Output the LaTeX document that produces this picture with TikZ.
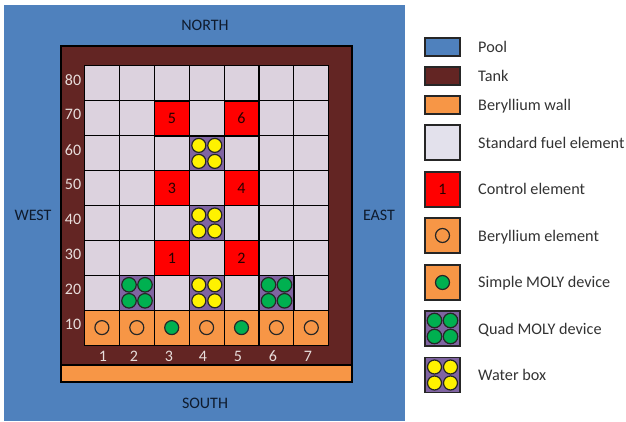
\documentclass[tikz,border=0pt]{standalone}
\usepackage{fontspec}
\setmainfont{Carlito}
\definecolor{poolc}{HTML}{4F81BD}
\definecolor{tankc}{HTML}{632523}
\definecolor{berc}{HTML}{F79646}
\definecolor{fuelc}{HTML}{DCD2DE}
\definecolor{fuellc}{HTML}{E3E1EC}
\definecolor{purc}{HTML}{8064A2}
\definecolor{grnc}{HTML}{00B050}
\definecolor{inkc}{HTML}{0F1B2D}
\definecolor{lblc}{HTML}{E8DEDC}
\definecolor{legc}{HTML}{333333}
\tikzset{
  x=1pt,y=-1pt,
  cellbox/.style={draw=black,line width=1.1pt,minimum width=34.9pt,minimum height=34.9pt,inner sep=0pt,outer sep=0pt,anchor=center,font=\fontsize{16}{16}\selectfont,text=black!85!red},
  fuel/.style={cellbox,fill=fuelc},
  ctrl/.style={cellbox,fill=red},
  ber/.style={cellbox,fill=berc},
  pur/.style={cellbox,fill=purc},
  ring/.style={circle,draw=black!85,line width=1.2pt,minimum size=14pt,inner sep=0pt,outer sep=0pt},
  greenring/.style={ring,fill=grnc},
  qgreen/.style={circle,draw=black!85,line width=1.2pt,minimum size=14.5pt,inner sep=0pt,fill=grnc},
  qyellow/.style={circle,draw=black!85,line width=1.2pt,minimum size=14pt,inner sep=0pt,fill=yellow},
  wallbox/.style={draw=black,line width=1.4pt,inner sep=0pt,outer sep=0pt},
  swatch/.style={draw=black!85,line width=1.2pt,minimum width=35pt,inner sep=0pt,outer sep=0pt,anchor=center},
  axis/.style={text=lblc,font=\fontsize{16}{16}\selectfont,inner sep=0pt},
  compass/.style={text=inkc,font=\fontsize{16}{16}\selectfont,inner sep=0pt},
  legtext/.style={text=legc,font=\fontsize{16.2}{16}\selectfont,inner sep=0pt,anchor=base west},
}
\newcommand{\quadset}[3]{% centre x, y, style
  \node[#3] at (#1-8,#2-8) {};
  \node[#3] at (#1+8,#2-8) {};
  \node[#3] at (#1-8,#2+8) {};
  \node[#3] at (#1+8,#2+8) {};
}
\begin{document}
\begin{tikzpicture}
\useasboundingbox (0,0) rectangle (626,421);
\fill[white] (0,0) rectangle (626,421);
\fill[poolc] (4,5) rectangle (405,421);
\node[wallbox,fill=tankc,minimum width=291pt,minimum height=319pt] (tank) at (206.5,205.5) {};
\node[wallbox,fill=berc,minimum width=291pt,minimum height=17pt] (wall) at (206.5,373.5) {};
% grid of fuel elements
\foreach \c in {1,...,7}{
  \foreach \r in {2,...,8}{
    \node[fuel] (c\c r\r) at ({67+34.9*\c},{362.5-34.9*\r}) {};
  }
}
% control elements
\node[ctrl] (ctrlone) at (172,258) {1};
\node[ctrl] (ctrltwo) at (241.5,258) {2};
\node[ctrl] (ctrlthree) at (172,188.3) {3};
\node[ctrl] (ctrlfour) at (241.5,188.3) {4};
\node[ctrl] (ctrlfive) at (172,118.5) {5};
\node[ctrl] (ctrlsix) at (241.5,118.5) {6};
% purple boxes
\node[pur] (qa) at (137,292.8) {};
\node[pur] (qb) at (276.5,292.8) {};
\quadset{137}{292.8}{qgreen}
\quadset{276.5}{292.8}{qgreen}
\node[pur] (wa) at (206.8,292.8) {};
\node[pur] (wb) at (206.8,223) {};
\node[pur] (wc) at (206.8,153.4) {};
\quadset{206.8}{292.8}{qyellow}
\quadset{206.8}{223}{qyellow}
\quadset{206.8}{153.4}{qyellow}
% row of beryllium
\foreach \c/\s in {1/ring,2/ring,3/greenring,4/ring,5/greenring,6/ring,7/ring}{
  \node[ber] (b\c) at ({67+34.9*\c},327.6) {};
  \node[\s] (br\c) at ({67+34.9*\c},327.6) {};
}
% axis labels
\foreach \t/\y in {80/80,70/114,60/150,50/184,40/219,30/254,20/289,10/324}{
  \node[axis] (y\t) at (73,\y) {\t};
}
\foreach \t/\x in {1/103,2/134,3/169,4/203,5/238,6/273,7/308}{
  \node[axis] (x\t) at (\x,356) {\t};
}
\node[compass] (north) at (205,25) {NORTH};
\node[compass] (south) at (205,403) {SOUTH};
\node[compass] (west) at (33,215) {WEST};
\node[compass] (east) at (379,215) {EAST};
% legend
\node[swatch,fill=poolc,minimum height=18pt] (lp) at (442.5,47) {};
\node[swatch,fill=tankc,minimum height=18pt] (lt) at (442.5,76) {};
\node[swatch,fill=berc,minimum height=18pt] (lw) at (442.5,105) {};
\node[swatch,fill=fuellc,minimum height=35pt] (lf) at (442.5,142.5) {};
\node[swatch,fill=red,minimum height=35pt,text=black!85!red,font=\fontsize{16}{16}\selectfont] (lc) at (442.5,189.5) {1};
\node[swatch,fill=berc,minimum height=35pt] (lb) at (442.5,235.5) {};
\node[ring] (lbr) at (442.5,235.5) {};
\node[swatch,fill=berc,minimum height=35pt] (ls) at (442.5,282.5) {};
\node[greenring] (lsr) at (442.5,282.5) {};
\node[swatch,fill=purc,minimum height=35pt] (lq) at (442.5,328.5) {};
\quadset{442.5}{328.5}{qgreen}
\node[swatch,fill=purc,minimum height=35pt] (lx) at (442.5,375) {};
\quadset{442.5}{375}{qyellow}
\node[legtext] (tp) at (478,52) {Pool};
\node[legtext] (tt) at (478,81) {Tank};
\node[legtext] (tw) at (478,110) {Beryllium wall};
\node[legtext] (tf) at (478,148) {Standard fuel element};
\node[legtext] (tc) at (478,194.5) {Control element};
\node[legtext] (tb) at (478,241) {Beryllium element};
\node[legtext] (ts) at (478,287.5) {Simple MOLY device};
\node[legtext] (tq) at (478,334) {Quad MOLY device};
\node[legtext] (tx) at (478,380) {Water box};
\end{tikzpicture}
\end{document}
